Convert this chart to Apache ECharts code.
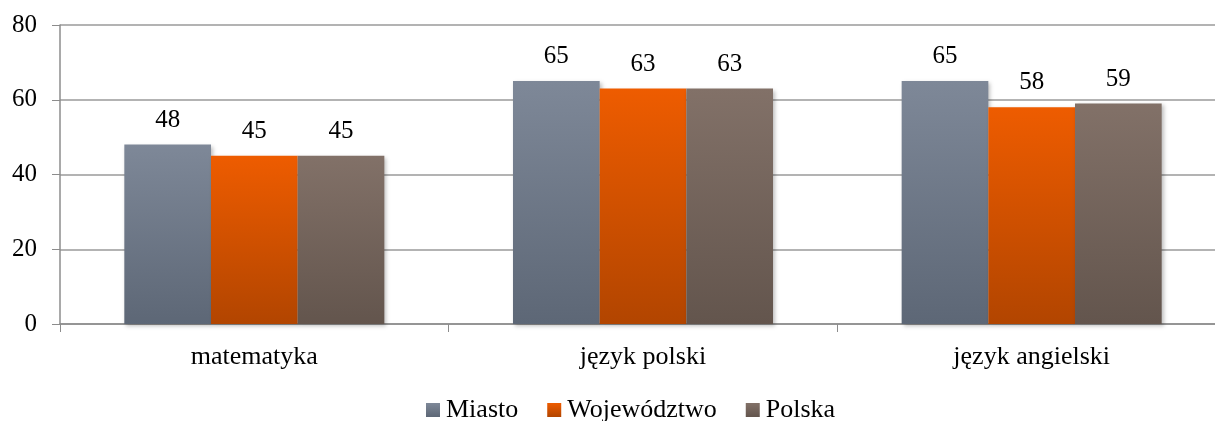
<!DOCTYPE html>
<html>
<head>
    <meta charset="utf-8">
    <title>Wyniki</title>
    <script src="https://cdn.jsdelivr.net/npm/echarts@6/dist/echarts.min.js"></script>
    <style>
        html, body { margin: 0; padding: 0; background: #fff; overflow: hidden; }
        /* wykres nieco szerszy od okna - siatka wychodzi poza prawą krawędź jak w oryginale */
        #main { width: 1226px; height: 421px; }
    </style>
</head>
<body>
<div id="main"></div>
<script>
    // dane
    var categories = ['matematyka', 'język polski', 'język angielski'];
    var miasto = [48, 65, 65];
    var wojewodztwo = [45, 63, 58];
    var polska = [45, 63, 59];
    var yTicks = [0, 20, 40, 60, 80];

    var font = '"Liberation Serif", "Times New Roman", serif';

    function grad(top, bottom) {
        return new echarts.graphic.LinearGradient(0, 0, 0, 1, [
            { offset: 0, color: top },
            { offset: 1, color: bottom }
        ]);
    }

    function serie(name, data, top, bottom) {
        return {
            name: name,
            type: 'bar',
            data: data,
            barWidth: '22.3%',
            barGap: '0%',
            itemStyle: {
                color: grad(top, bottom),
                shadowColor: 'rgba(0,0,0,0.25)',
                shadowBlur: 4,
                shadowOffsetX: 2,
                shadowOffsetY: 2
            },
            label: {
                show: true,
                position: 'top',
                distance: 12,
                color: '#000',
                fontFamily: font,
                fontSize: 25
            }
        };
    }

    var myChart = echarts.init(document.getElementById('main'), null, { renderer: 'canvas' });
    myChart.setOption({
        animation: false,
        textStyle: { fontFamily: font },
        grid: { left: 60, right: 0, top: 25, bottom: 97 },
        legend: {
            bottom: -7,
            left: 421,
            itemWidth: 14,
            itemHeight: 14,
            itemGap: 29,
            icon: 'rect',
            textStyle: { fontFamily: font, fontSize: 26, color: '#000', padding: [0, 0, 0, 1] },
            data: ['Miasto', 'Województwo', 'Polska']
        },
        xAxis: {
            type: 'category',
            data: categories,
            axisLine: { lineStyle: { color: '#8c8c8c', width: 1.5 } },
            axisTick: { show: true, length: 8, lineStyle: { color: '#8c8c8c' } },
            axisLabel: { color: '#000', fontFamily: font, fontSize: 26, margin: 20 }
        },
        yAxis: {
            type: 'value',
            min: yTicks[0],
            max: yTicks[yTicks.length - 1],
            interval: 20,
            axisLine: { show: true, lineStyle: { color: '#8c8c8c', width: 1.5 } },
            axisTick: { show: true, length: 8, lineStyle: { color: '#8c8c8c' } },
            splitLine: { lineStyle: { color: '#9a9a9a', width: 1.5 } },
            axisLabel: { color: '#000', fontFamily: font, fontSize: 25, margin: 23 }
        },
        series: [
            serie('Miasto', miasto, '#7e8898', '#5d6776'),
            serie('Województwo', wojewodztwo, '#ee5c00', '#b24500'),
            serie('Polska', polska, '#827168', '#63554d')
        ]
    });
</script>
</body>
</html>
